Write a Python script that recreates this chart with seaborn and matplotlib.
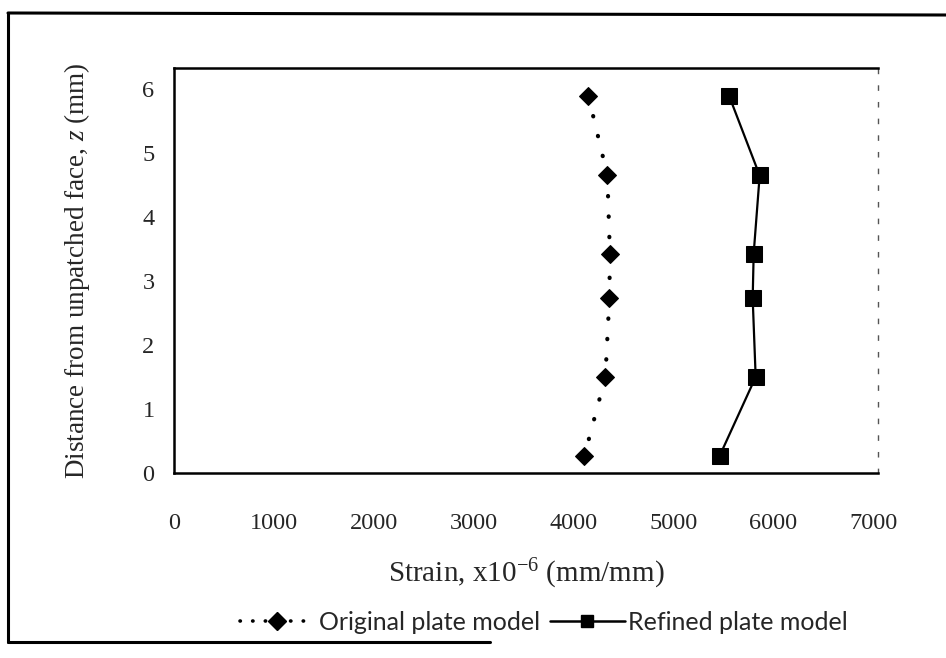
import matplotlib
matplotlib.use("Agg")
import matplotlib.pyplot as plt
from matplotlib.lines import Line2D
import seaborn as sns
import pandas as pd

# Through-thickness strain distribution
z_original = [5.89, 4.65, 3.43, 2.73, 1.50, 0.27]
strain_original = [4150, 4340, 4365, 4360, 4320, 4110]

z_refined = [5.89, 4.65, 3.43, 2.73, 1.50, 0.27]
strain_refined = [5560, 5865, 5805, 5795, 5825, 5465]

x_ticks = [0, 1000, 2000, 3000, 4000, 5000, 6000, 7000]
y_ticks = [0, 1, 2, 3, 4, 5, 6]

sns.set_theme(style="white")
plt.rcParams["font.family"] = ["Liberation Serif", "DejaVu Serif"]
plt.rcParams["mathtext.fontset"] = "custom"
plt.rcParams["mathtext.rm"] = "Liberation Serif"
plt.rcParams["mathtext.it"] = "Liberation Serif:italic"

fig = plt.figure(figsize=(9.46, 6.58), dpi=100)
ax = fig.add_axes([174 / 946, 1 - 473 / 658, (878 - 174) / 946, (473 - 68) / 658])

df_o = pd.DataFrame({"strain": strain_original, "z": z_original})
df_r = pd.DataFrame({"strain": strain_refined, "z": z_refined})

dotted = (0, (0.1, 4.8))
sns.lineplot(data=df_o, x="strain", y="z", sort=False, estimator=None, ax=ax,
             color="black", linewidth=3.0, linestyle=dotted,
             dash_capstyle="round",
             marker="D", markersize=9, markeredgecolor="black",
             markerfacecolor="black")
sns.lineplot(data=df_r, x="strain", y="z", sort=False, estimator=None, ax=ax,
             color="black", linewidth=1.6, linestyle="-",
             marker="s", markersize=11, markeredgecolor="black",
             markerfacecolor="black")

ax.set_xlim(0, 7050)
ax.set_ylim(0, 6.33)
ax.set_xticks(x_ticks)
ax.set_yticks(y_ticks)
ax.set_xticklabels([str(t) for t in x_ticks], fontsize=17.5)
ax.set_yticklabels([str(t) for t in y_ticks], fontsize=17.5)
ax.tick_params(axis="x", length=0, pad=29)
ax.tick_params(axis="y", length=0, pad=14)

ax.set_xlabel("Strain, x10$^{-6}$ (mm/mm)", fontsize=21, labelpad=16)
ax.set_ylabel("Distance from unpatched face, $\\mathit{z}$ (mm)", fontsize=19.5,
              labelpad=36)

for side in ["left", "bottom", "top"]:
    ax.spines[side].set_color("black")
    ax.spines[side].set_linewidth(1.8)
ax.spines["right"].set_color("#555555")
ax.spines["right"].set_linewidth(1.0)
ax.spines["right"].set_linestyle((0, (3, 9)))

handles = [
    Line2D([], [], color="black", linewidth=2.6, linestyle=(0, (0.1, 3.4)),
           dash_capstyle="round",
           marker="D", markersize=9, markerfacecolor="black"),
    Line2D([], [], color="black", linewidth=1.8, linestyle="-",
           marker="s", markersize=9, markerfacecolor="black"),
]
fig.legend(handles, ["Original plate model", "Refined plate model"],
           loc="center", bbox_to_anchor=(544 / 946, 1 - 622 / 658), ncol=2,
           frameon=False, prop={"family": "Lato", "size": 18},
           handlelength=3.0, handletextpad=0.15, columnspacing=0.4)

# Outer frame of the figure
frame_kw = dict(color="black", linewidth=2.2, transform=fig.transFigure)
fig.add_artist(Line2D([8 / 946, 1.0], [1 - 13 / 658, 1 - 15 / 658], **frame_kw))
fig.add_artist(Line2D([8 / 946, 8 / 946], [1 - 13 / 658, 1 - 642 / 658], **frame_kw))
fig.add_artist(Line2D([8 / 946, 490 / 946], [1 - 642 / 658, 1 - 642 / 658], **frame_kw))

fig.savefig("out.png", dpi=100)
